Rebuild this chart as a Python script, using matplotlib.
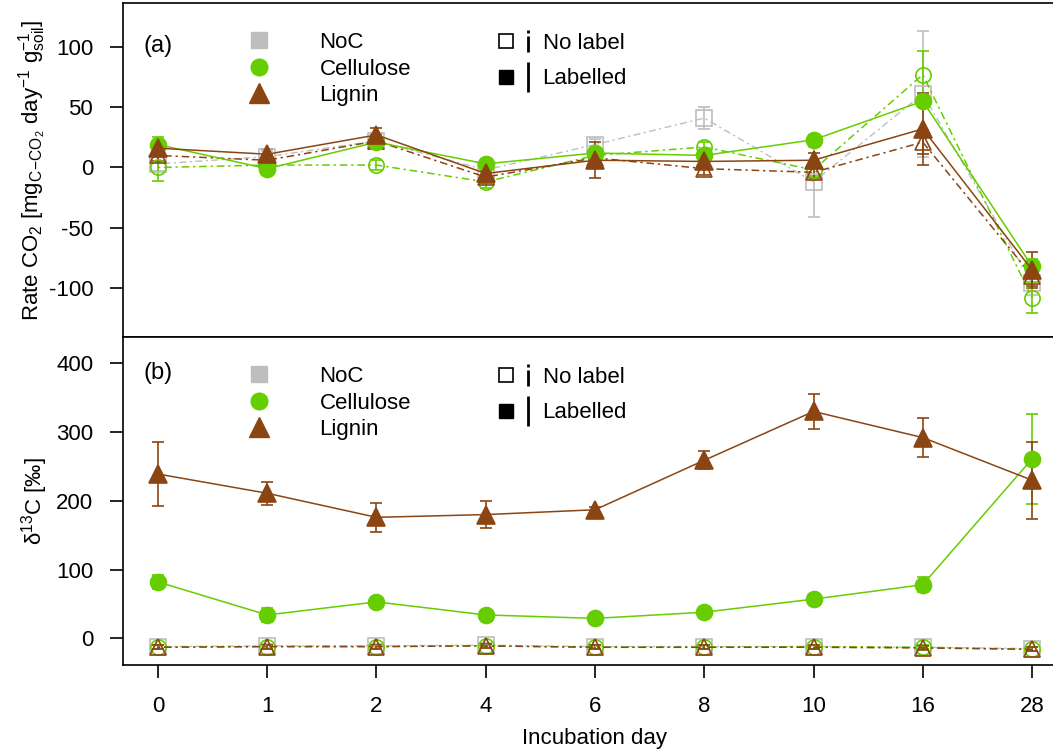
import numpy as np
import matplotlib
matplotlib.use("Agg")
import matplotlib.pyplot as plt
from matplotlib.lines import Line2D
from matplotlib.path import Path
from matplotlib.legend_handler import HandlerTuple

plt.rcParams['font.family'] = ['Liberation Sans', 'DejaVu Sans']
plt.rcParams['mathtext.fontset'] = 'custom'
plt.rcParams['mathtext.rm'] = 'Liberation Sans'
plt.rcParams['mathtext.it'] = 'Liberation Sans:italic'
plt.rcParams['font.size'] = 16
plt.rcParams['axes.unicode_minus'] = False

# incubation days (categorical axis)
days = ['0', '1', '2', '4', '6', '8', '10', '16', '28']

# (a) CO2 rate
noc_a = [3, 9, 22, -2, 19, 41, -12, 61, -96]
noc_a_se = [6, 5, 5, 4, 5, 9, 29, 52, 10]
cel_nl_a = [0, 2, 2, -12, 10, 17, -2, 77, -108]
cel_nl_a_se = [11, 7, 4, 5, 5, 4, 5, 20, 13]
lig_nl_a = [10, 6, 22, -8, 8, -1, -4, 21, -90]
lig_nl_a_se = [5, 4, 6, 5, 5, 5, 5, 10, 8]
cel_l_a = [19, -1, 21, 3, 12, 10, 23, 55, -82]
cel_l_a_se = [6, 5, 4, 4, 4, 3, 4, 5, 6]
lig_l_a = [16, 11, 27, -5, 6, 5, 6, 32, -85]
lig_l_a_se = [6, 4, 6, 5, 15, 6, 6, 30, 15]

# (b) d13C
noc_b = [-12, -11, -11, -10, -12, -12, -12, -13, -15]
noc_b_se = [3, 3, 3, 3, 3, 3, 3, 3, 3]
cel_nl_b = [-13, -12, -12, -11, -13, -13, -12, -13, -16]
cel_nl_b_se = [3, 3, 3, 3, 3, 3, 3, 3, 3]
lig_nl_b = [-13, -12, -12, -11, -13, -13, -13, -14, -16]
lig_nl_b_se = [3, 3, 3, 3, 3, 3, 3, 3, 3]
cel_l_b = [82, 34, 53, 34, 29, 38, 57, 78, 261]
cel_l_b_se = [10, 10, 5, 4, 3, 4, 4, 11, 66]
lig_l_b = [239, 211, 176, 180, 187, 259, 330, 292, 230]
lig_l_b_se = [46, 17, 21, 20, 4, 13, 25, 28, 56]

gray = '#BEBEBE'
green = '#66CD00'
brown = '#8B4513'
dd = (0, (1.5, 2.5, 5, 2.5))

x = np.arange(len(days))

fig = plt.figure(figsize=(10.53, 7.51), dpi=100)
axa = fig.add_axes([123/1053, (751-337)/751, (1067-123)/1053, 334/751])
axb = fig.add_axes([123/1053, (751-665)/751, (1067-123)/1053, 328/751])


def series(ax, y, se, color, marker, ms, filled, ls, lw=1.1):
    ax.errorbar(x, y, yerr=se, color=color, ls=ls, lw=lw, marker=marker, ms=ms,
                mfc=color if filled else 'none', mec=color, mew=1.2,
                ecolor=color, elinewidth=1.2, capsize=4, capthick=1.2)


def panel(ax, d, hpx):
    series(ax, d[0], d[1], gray, 's', 11, False, dd, 1.0)
    series(ax, d[2], d[3], green, 'o', 11, False, dd)
    series(ax, d[4], d[5], brown, '^', 11, False, dd)
    series(ax, d[6], d[7], green, 'o', 11.5, True, '-')
    series(ax, d[8], d[9], brown, '^', 13, True, '-')
    ax.set_xlim(-0.32, 8.32)
    for s in ax.spines.values():
        s.set_linewidth(1.2)
    ax.tick_params(axis='y', direction='out', length=9.5, width=1.2, pad=12)

    h1 = [Line2D([], [], ls='none', marker='s', ms=11, color=gray),
          Line2D([], [], ls='none', marker='o', ms=12, color=green),
          Line2D([], [], ls='none', marker='^', ms=14, color=brown)]
    leg1 = ax.legend(h1, ['NoC', 'Cellulose', 'Lignin'], loc='upper left',
                     bbox_to_anchor=(0.12, 1 - 29/hpx), frameon=False, borderpad=0,
                     borderaxespad=0, handlelength=2.0, handletextpad=1.75,
                     labelspacing=0.25)
    ax.add_artist(leg1)
    dotbar = Path([(0, 1), (0, 0.7), (0, 0.45), (0, -1)],
                  [Path.MOVETO, Path.LINETO, Path.MOVETO, Path.LINETO])
    h2 = [(Line2D([], [], ls='none', marker='s', ms=10, mfc='none', mec='black', mew=1.2),
           Line2D([], [], ls='none', marker=dotbar, ms=16, mec='black', mew=2)),
          (Line2D([], [], ls='none', marker='s', ms=10, color='black'),
           Line2D([], [], ls='none', marker='|', ms=22, mec='black', mew=2))]
    ax.legend(h2, ['No label', 'Labelled'], loc='upper left',
              bbox_to_anchor=(0.395, 1 - 30/hpx), frameon=False, borderpad=0,
              borderaxespad=0, handlelength=1.9, handletextpad=0.2,
              labelspacing=0.65, handler_map={tuple: HandlerTuple(ndivide=None, pad=0.1)})


panel(axa, [noc_a, noc_a_se, cel_nl_a, cel_nl_a_se, lig_nl_a, lig_nl_a_se,
            cel_l_a, cel_l_a_se, lig_l_a, lig_l_a_se], 334)
panel(axb, [noc_b, noc_b_se, cel_nl_b, cel_nl_b_se, lig_nl_b, lig_nl_b_se,
            cel_l_b, cel_l_b_se, lig_l_b, lig_l_b_se], 328)

axa.set_ylim(-140.7, 136.5)
axa.set_yticks([-100, -50, 0, 50, 100])
axa.set_xticks([])
axa.text(0.037, 0.87, '(a)', transform=axa.transAxes, ha='center', va='center', fontsize=17)
axa.set_ylabel(r'Rate CO$_2$ [mg$_{\mathrm{C\!-\!CO_2}}$ day$^{-1}$ g$_{\mathrm{soil}}^{-1}$]',
               labelpad=0)

axb.set_ylim(-38.8, 438.3)
axb.set_yticks([0, 100, 200, 300, 400])
axb.set_xticks(x)
axb.set_xticklabels(days)
axb.tick_params(axis='x', direction='out', length=9.5, width=1.2, pad=13)
axb.text(0.037, 0.89, '(b)', transform=axb.transAxes, ha='center', va='center', fontsize=17)
axb.set_ylabel('δ$^{13}$C [‰]', labelpad=4)
axb.set_xlabel('Incubation day', labelpad=8)

fig.savefig('out.png', dpi=100)
